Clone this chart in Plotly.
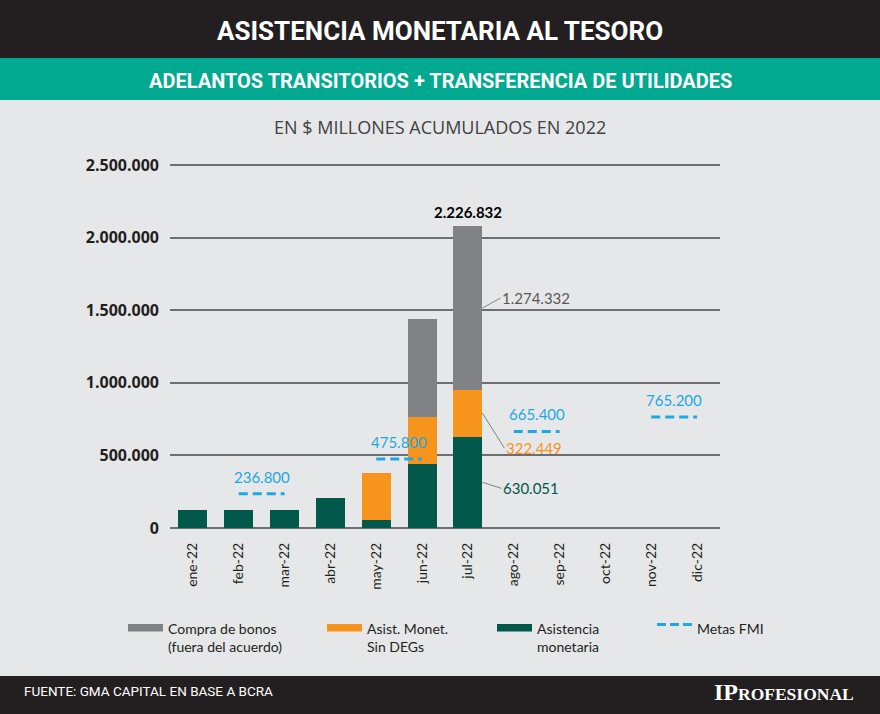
import plotly.graph_objects as go

# ---------------- data ----------------
months = ["ene-22", "feb-22", "mar-22", "abr-22", "may-22", "jun-22",
          "jul-22", "ago-22", "sep-22", "oct-22", "nov-22", "dic-22"]
asistencia_monetaria = [126000, 126000, 124000, 206000, 57000, 440000, 630051,
                        None, None, None, None, None]
asist_sin_degs = [None, None, None, None, 321000, 324000, 322449,
                  None, None, None, None, None]
compra_bonos = [None, None, None, None, None, 676000, 1124000,
                None, None, None, None, None]

metas_start = ["feb-22", "may-22", "ago-22", "nov-22"]
metas_end = ["mar-22", "jun-22", "sep-22", "dic-22"]
metas_fmi = [236800, 475800, 665400, 765200]
metas_labels = ["236.800", "475.800", "665.400", "765.200"]

total_label = "2.226.832"
jul_labels = {"compra": "1.274.332", "sin_degs": "322.449", "asistencia": "630.051"}

y_ticks = [0, 500000, 1000000, 1500000, 2000000, 2500000]

# ---------------- style ----------------
BG = "#e6e7e8"
DARK = "#231f20"
GREEN_BAND = "#00a98f"
C_GREY = "#808285"
C_ORANGE = "#f7941d"
C_GREEN = "#02584a"
C_BLUE = "#1ea7e1"
GRID = "#6d6e71"

W, H = 880, 714
L, R, T, B = 170, 160, 162, 183
PW, PH = W - L - R, H - T - B


def px_x(px):
    return (px - L) / PW


def px_y(py):
    return (H - B - py) / PH


fig = go.Figure()

fig.add_bar(x=months, y=asistencia_monetaria, name="Asistencia monetaria",
            marker=dict(color=C_GREEN, line=dict(width=0)))
fig.add_bar(x=months, y=asist_sin_degs, name="Asist. Monet. Sin DEGs",
            marker=dict(color=C_ORANGE, line=dict(width=0)))
fig.add_bar(x=months, y=compra_bonos, name="Compra de bonos",
            marker=dict(color=C_GREY, line=dict(width=0)))

for xs, xe, v, lab in zip(metas_start, metas_end, metas_fmi, metas_labels):
    fig.add_scatter(x=[xs, xe], y=[v, v], mode="lines",
                    line=dict(color=C_BLUE, width=3, dash="9px,5px"),
                    showlegend=False, hoverinfo="skip")
    mid = (months.index(xs) + months.index(xe)) / 2
    fig.add_annotation(x=mid, y=v, text=lab, showarrow=False, yshift=17,
                       font=dict(family="Lato", size=15, color=C_BLUE))

annotations = []
shapes = []

# jul labels
ji = months.index("jul-22")
g = asistencia_monetaria[ji]
o = asist_sin_degs[ji]
c = compra_bonos[ji]
fig.add_annotation(x="jul-22", y=g + o + c, text="<b>" + total_label + "</b>",
                   showarrow=False, yshift=14,
                   font=dict(family="Lato", size=15, color="#000000"))
fig.add_annotation(x="jul-22", y=g + o + c * 0.5, xshift=14.5,
                   text=jul_labels["compra"], showarrow=True, arrowhead=0,
                   arrowwidth=1, arrowcolor=C_GREY, ax=18, ay=-10,
                   xanchor="left", standoff=0,
                   font=dict(family="Lato", size=15, color="#58595b"))
fig.add_annotation(x="jul-22", y=g + o * 0.5, xshift=14.5,
                   text=jul_labels["sin_degs"], showarrow=True, arrowhead=0,
                   arrowwidth=1, arrowcolor=C_GREY, ax=22, ay=35,
                   xanchor="left", standoff=0,
                   font=dict(family="Lato", size=15, color=C_ORANGE))
fig.add_annotation(x="jul-22", y=g * 0.5, xshift=14.5,
                   text=jul_labels["asistencia"], showarrow=True, arrowhead=0,
                   arrowwidth=1, arrowcolor=C_GREY, ax=19, ay=6,
                   xanchor="left", standoff=0,
                   font=dict(family="Lato", size=15, color=C_GREEN))

# background bands
shapes.append(dict(type="rect", xref="paper", yref="paper", layer="below",
                   x0=px_x(0), x1=px_x(W), y0=px_y(0), y1=px_y(58),
                   fillcolor=DARK, line=dict(width=0)))
shapes.append(dict(type="rect", xref="paper", yref="paper", layer="below",
                   x0=px_x(0), x1=px_x(W), y0=px_y(58), y1=px_y(100),
                   fillcolor=GREEN_BAND, line=dict(width=0)))
shapes.append(dict(type="rect", xref="paper", yref="paper", layer="below",
                   x0=px_x(0), x1=px_x(W), y0=px_y(676), y1=px_y(H),
                   fillcolor=DARK, line=dict(width=0)))

annotations.append(dict(xref="paper", yref="paper", x=px_x(440), y=px_y(31),
                        text="<b>ASISTENCIA MONETARIA AL TESORO</b>",
                        showarrow=False, xanchor="center", yanchor="middle",
                        font=dict(family="Liberation Sans Narrow, Roboto, sans-serif",
                                  size=26, color="white")))
annotations.append(dict(xref="paper", yref="paper", x=px_x(440), y=px_y(81),
                        text="<b>ADELANTOS TRANSITORIOS + TRANSFERENCIA DE UTILIDADES</b>",
                        showarrow=False, xanchor="center", yanchor="middle",
                        font=dict(family="Liberation Sans Narrow, Roboto, sans-serif",
                                  size=20, color="white")))
annotations.append(dict(xref="paper", yref="paper", x=px_x(440), y=px_y(127),
                        text="EN $ MILLONES ACUMULADOS EN 2022",
                        showarrow=False, xanchor="center", yanchor="middle",
                        font=dict(family="Open Sans", size=18, color="#414042")))
annotations.append(dict(xref="paper", yref="paper", x=px_x(22), y=px_y(691),
                        text="FUENTE: GMA CAPITAL EN BASE A BCRA",
                        showarrow=False, xanchor="left", yanchor="middle",
                        font=dict(family="Liberation Sans Narrow, Roboto, sans-serif",
                                  size=13.5, color="white")))
annotations.append(dict(xref="paper", yref="paper", x=px_x(856), y=px_y(692),
                        text="<b>IP<span style='font-size:17.5px'>ROFESIONAL</span></b>",
                        showarrow=False, xanchor="right", yanchor="middle",
                        font=dict(family="Liberation Serif, DejaVu Serif, serif",
                                  size=24, color="white")))

# manual legend
leg_items = [
    (128, C_GREY, "rect", "Compra de bonos<br>(fuera del acuerdo)"),
    (327, C_ORANGE, "rect", "Asist. Monet.<br>Sin DEGs"),
    (497, C_GREEN, "rect", "Asistencia<br>monetaria"),
    (657, C_BLUE, "dash", "Metas FMI"),
]
for x0, col, kind, txt in leg_items:
    if kind == "rect":
        shapes.append(dict(type="rect", xref="paper", yref="paper",
                           x0=px_x(x0), x1=px_x(x0 + 35), y0=px_y(624),
                           y1=px_y(631.5), fillcolor=col, line=dict(width=0)))
    else:
        shapes.append(dict(type="line", xref="paper", yref="paper",
                           x0=px_x(x0), x1=px_x(x0 + 35), y0=px_y(624.5),
                           y1=px_y(624.5),
                           line=dict(color=col, width=3, dash="9px,4px")))
    annotations.append(dict(xref="paper", yref="paper", x=px_x(x0 + 38),
                            y=px_y(618), text=txt, showarrow=False,
                            xanchor="left", yanchor="top", align="left",
                            font=dict(family="Lato", size=14, color=DARK)))

fig.update_layout(
    width=W, height=H,
    margin=dict(l=L, r=R, t=T, b=B, pad=0),
    paper_bgcolor=BG, plot_bgcolor=BG,
    barmode="stack", bargap=0.37,
    showlegend=False,
    separators=",.",
    shapes=shapes,
)
for a in annotations:
    fig.add_annotation(**a)

fig.update_xaxes(type="category", categoryorder="array", categoryarray=months,
                 tickangle=-90, showgrid=False, showline=False, zeroline=False,
                 ticks="", ticklabelstandoff=8,
                 tickfont=dict(family="Lato", size=14, color=DARK))
fig.update_yaxes(range=[-20000, 2520000], tickvals=y_ticks, tickformat=",d",
                 showgrid=True, gridcolor=GRID, gridwidth=2,
                 zeroline=True, zerolinecolor=GRID, zerolinewidth=2,
                 showline=False, ticks="", ticklabelstandoff=10,
                 tickfont=dict(family="Open Sans", size=16, color=DARK,
                               weight="bold"))

fig.write_html("out.html", config={"displayModeBar": False},
               post_script="document.body.style.margin='0';document.body.style.background='#e6e7e8';")
